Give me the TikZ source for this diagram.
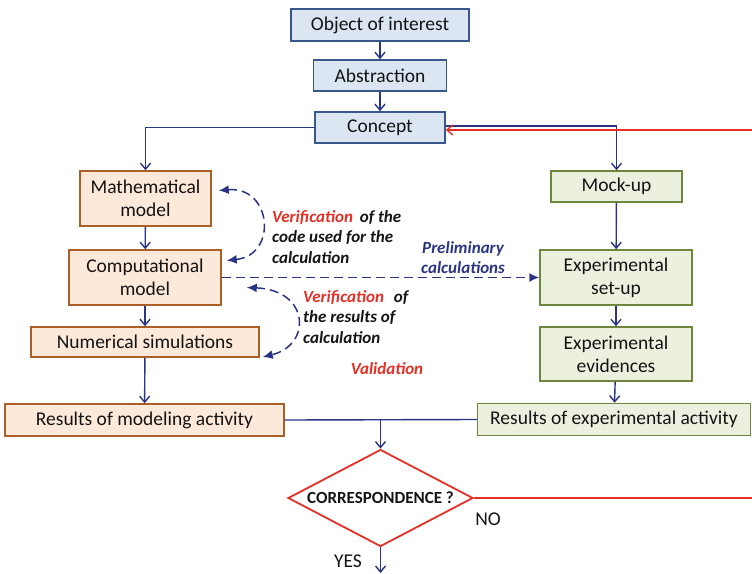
\documentclass[tikz,border=0pt]{standalone}
\usepackage{fontspec}
\setmainfont{Carlito}
\usetikzlibrary{arrows.meta,shapes.geometric}
\definecolor{navy}{RGB}{42,52,132}
\definecolor{alarm}{RGB}{228,48,38}
\definecolor{ink}{RGB}{20,20,20}
\definecolor{bluefill}{RGB}{220,230,242}
\definecolor{blueline}{RGB}{56,88,138}
\definecolor{orangefill}{RGB}{253,233,217}
\definecolor{orangeline}{RGB}{170,95,40}
\definecolor{greenfill}{RGB}{235,241,222}
\definecolor{greenline}{RGB}{110,135,60}
\begin{document}
\begin{tikzpicture}[x=1pt,y=-1pt,
  box/.style={rectangle,draw,line width=1.5pt,inner sep=0pt,align=center,text=ink,
    font=\fontsize{19.5}{23}\selectfont},
  bluebox/.style={box,fill=bluefill,draw=blueline},
  orangebox/.style={box,fill=orangefill,draw=orangeline},
  greenbox/.style={box,fill=greenfill,draw=greenline},
  flow/.style={draw=navy,line width=1.4pt,-{Straight Barb[length=6pt,width=10pt]}},
  plain/.style={draw=navy,line width=1.4pt},
  back/.style={draw=alarm,line width=1.4pt},
  dashflow/.style={draw=navy,line width=1.5pt,dash pattern=on 9pt off 5pt,
    {Latex[length=10pt,width=9pt]}-{Latex[length=10pt,width=9pt]}},
  note/.style={font=\fontsize{17}{20.5}\selectfont\bfseries\itshape,text=ink,inner sep=0pt},
  small/.style={font=\fontsize{19.5}{22}\selectfont,text=ink,inner sep=0pt}]
\useasboundingbox (0,0) rectangle (752,573);

% top chain
\node[bluebox,minimum width=178pt,minimum height=32pt] (obj) at (380,25) {Object of interest};
\node[bluebox,minimum width=133pt,minimum height=31pt] (abs) at (380,75.5) {Abstraction};
\node[bluebox,minimum width=130pt,minimum height=31pt] (con) at (380,127.5) {Concept};

% modelling branch
\node[orangebox,minimum width=131pt,minimum height=55pt] (math) at (145.5,198.5) {Mathematical\\model};
\node[orangebox,minimum width=152pt,minimum height=55pt] (comp) at (145,277.5) {Computational\\model};
\node[orangebox,minimum width=228pt,minimum height=30pt] (num) at (145,342) {Numerical simulations};
\node[orangebox,minimum width=279pt,minimum height=32pt] (resmod) at (144.5,420) {Results of modeling activity};

% experimental branch
\node[greenbox,minimum width=131pt,minimum height=31pt] (mock) at (616.5,186.5) {Mock-up};
\node[greenbox,minimum width=152pt,minimum height=55pt] (setup) at (616,277.5) {Experimental\\set-up};
\node[greenbox,minimum width=152pt,minimum height=54pt] (evid) at (616,354) {Experimental\\evidences};
\node[greenbox,minimum width=273pt,minimum height=32pt] (resexp) at (614,419.5) {Results of experimental activity};

% decision
\node[diamond,draw=alarm,line width=1.8pt,fill=white,inner sep=0pt,aspect=1.9,
  minimum width=185pt,minimum height=97pt,text=ink,
  font=\fontsize{17}{18}\selectfont\bfseries] (dec) at (380.5,498) {CORRESPONDENCE ?};

% free ends at the border
\coordinate (redin) at (752,130);
\coordinate (redout) at (752,498);
\coordinate (down) at (380.5,573);
\coordinate (join) at (dec.north |- resmod.east);

% solid connectors
\draw[flow] (obj) -- (abs);
\draw[flow] (abs) -- (con);
\draw[flow] (con.west) -| (math.north);
\draw[flow] ([yshift=1.5pt]con.east) -| (mock.north);
\draw[flow] (math) -- (comp);
\draw[flow] (comp) -- (num);
\draw[flow] (num) -- (resmod);
\draw[flow] (mock) -- (setup);
\draw[flow] (setup) -- (evid);
\draw[flow] (evid) -- (resexp);
\draw[plain] (resmod.east) -- (resexp.west);
\draw[flow] (join) -- (dec.north);
\draw[flow] (dec.south) -- (down);

% feedback loop
\draw[back] (dec.east) -- (redout);
\draw[back,-{Straight Barb[length=6pt,width=10pt]}] (redin) -- (con.east |- redin);

% dashed links
\draw[draw=navy,line width=1.5pt,dash pattern=on 9pt off 5pt,-{Latex[length=10pt,width=9pt]}]
  (comp.east) -- (setup.west);
\draw[dashflow] ([xshift=7pt,yshift=8pt]math.east)
  .. controls (272,186) and (278,255) .. ([xshift=5pt,yshift=17pt]comp.east);
\draw[dashflow] ([xshift=25pt,yshift=-10pt]comp.east)
  .. controls (310,290) and (312,345) .. ([xshift=3pt,yshift=-15pt]num.east);

% annotations
\node[note,anchor=west,align=left] (ver1) at (272,237)
  {\textcolor{alarm}{Verification}\hspace{3pt} of the\\code used for the\\calculation};
\node[note,align=center,text=navy] (prel) at (463,257.5) {Preliminary\\calculations};
\node[note,anchor=west,align=left] (ver2) at (303,317)
  {\textcolor{alarm}{Verification}\hspace{6pt} of\\the results of\\calculation};
\node[note,text=alarm] (valid) at (387,369) {Validation};
\node[small] (no) at (488,519) {NO};
\node[small] (yes) at (348,561) {YES};
\end{tikzpicture}
\end{document}
